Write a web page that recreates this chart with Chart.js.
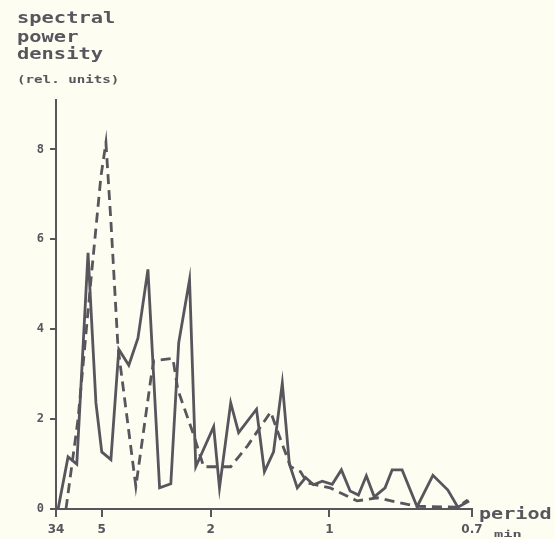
<!DOCTYPE html>
<html>
<head>
<meta charset="utf-8">
<script src="https://cdn.jsdelivr.net/npm/chart.js@4.4.1/dist/chart.umd.min.js"></script>
<style>
  html, body { margin: 0; padding: 0; background: #fdfdf2; }
  #wrap { width: 555px; height: 539px; }
</style>
</head>
<body>
<div id="wrap"><canvas id="chart1" width="555" height="539"></canvas></div>
<script>
// x is the position along the period axis (0 = 34 min, 100 = 0.7 min)
const xTicks = [0, 11.0, 37.2, 65.7, 100];
const xTickLabels = ['34', '5', '2', '1', '0.7'];
const yTicks = [0, 2, 4, 6, 8];

const solidX = [0.5, 2.9, 5.0, 7.7, 9.6, 11.0, 13.2, 15.1, 17.5, 19.7, 22.1, 24.9, 27.6, 29.5, 32.1, 33.6,
  37.9, 39.3, 42.0, 43.9, 48.2, 50.1, 52.3, 54.4, 56.1, 58.0, 60.0, 61.9, 64.0, 66.4, 68.6, 70.7,
  72.7, 74.6, 76.5, 79.1, 80.8, 83.2, 86.8, 90.6, 94.2, 96.6, 99.3];
const solidY = [0, 1.16, 1.0, 5.7, 2.36, 1.27, 1.1, 3.55, 3.2, 3.8, 5.33, 0.47, 0.56, 3.7, 5.1, 0.94,
  1.83, 0.47, 2.36, 1.7, 2.22, 0.83, 1.27, 2.8, 1.0, 0.47, 0.7, 0.54, 0.62, 0.55, 0.87, 0.4,
  0.31, 0.74, 0.27, 0.47, 0.87, 0.87, 0.05, 0.75, 0.42, 0.04, 0.18];

const dashedX = [2.4, 5.3, 8.4, 10.8, 12.0, 13.2, 14.9, 19.2, 22.8, 23.5, 28.1, 29.3, 32.9, 35.5,
  42.0, 46.0, 51.6, 54.0, 56.4, 58.8, 60.4, 65.9, 72.4, 77.2, 82.0, 86.8, 96.4, 99.0];
const dashedY = [0, 2.0, 5.1, 7.4, 8.15, 6.4, 3.6, 0.5, 2.9, 3.3, 3.35, 2.65, 1.7, 0.94,
  0.94, 1.4, 2.16, 1.54, 0.94, 0.83, 0.58, 0.47, 0.18, 0.25, 0.15, 0.06, 0.04, 0.2];

const ink = '#57565c';
const mono = '"DejaVu Sans Mono", monospace';

// wide, squat lettering like the typewriter-plotter original
function wideText(c, txt, x, y, size, sx, sp) {
  c.save();
  c.font = 'bold ' + size + 'px ' + mono;
  c.letterSpacing = (sp || 0) + 'px';
  c.translate(x, y);
  c.scale(sx, 1);
  c.fillText(txt, 0, 0);
  c.restore();
}

const paper = {
  id: 'paper',
  beforeDraw(chart) {
    const c = chart.ctx;
    c.save();
    c.fillStyle = '#fdfdf2';
    c.fillRect(0, 0, chart.width, chart.height);
    c.restore();
  },
  afterDraw(chart) {
    const c = chart.ctx;
    c.save();
    c.fillStyle = ink;
    c.textBaseline = 'alphabetic';
    wideText(c, 'spectral', 17, 23, 15, 1.36);
    wideText(c, 'power', 17, 42, 15, 1.36);
    wideText(c, 'density', 17, 59, 15, 1.36);
    wideText(c, '(rel. units)', 17, 83, 10.5, 1.35);
    wideText(c, 'period', 479, 519, 15, 1.34);
    wideText(c, 'min', 494, 537, 9, 1.7);
    c.restore();
  }
};

new Chart(document.getElementById('chart1'), {
  type: 'line',
  data: {
    datasets: [{
      label: 'solid',
      data: solidX.map((x, i) => ({ x: x, y: solidY[i] })),
      borderColor: ink,
      borderWidth: 2.8,
      pointRadius: 0,
      tension: 0,
      fill: false
    }, {
      label: 'dashed',
      data: dashedX.map((x, i) => ({ x: x, y: dashedY[i] })),
      borderColor: ink,
      borderWidth: 2.8,
      borderDash: [10, 6],
      pointRadius: 0,
      tension: 0,
      fill: false
    }]
  },
  options: {
    responsive: false,
    animation: false,
    layout: { padding: { top: 100, right: 83, left: 0, bottom: 0 } },
    plugins: { legend: { display: false }, tooltip: { enabled: false } },
    scales: {
      x: {
        type: 'linear',
        min: 0,
        max: 100,
        afterBuildTicks: s => { s.ticks = xTicks.map(v => ({ value: v })); },
        afterFit: s => { s.height = 30; },
        border: { display: true, color: ink, width: 2 },
        grid: { drawOnChartArea: false, tickLength: 8, color: ink, lineWidth: 2 },
        ticks: {
          autoSkip: false,
          maxRotation: 0,
          padding: 6,
          color: ink,
          font: { family: '"DejaVu Sans"', size: 12, weight: 'bold' },
          callback: (v, i) => xTickLabels[i]
        }
      },
      y: {
        type: 'linear',
        min: 0,
        max: 9.1,
        afterBuildTicks: s => { s.ticks = yTicks.map(v => ({ value: v })); },
        afterFit: s => { s.width = 56; },
        border: { display: true, color: ink, width: 2 },
        grid: { drawOnChartArea: false, tickLength: 6, color: ink, lineWidth: 2 },
        ticks: {
          padding: 6,
          color: ink,
          font: { family: mono, size: 12, weight: 'bold' }
        }
      }
    }
  },
  plugins: [paper]
});
</script>
</body>
</html>
